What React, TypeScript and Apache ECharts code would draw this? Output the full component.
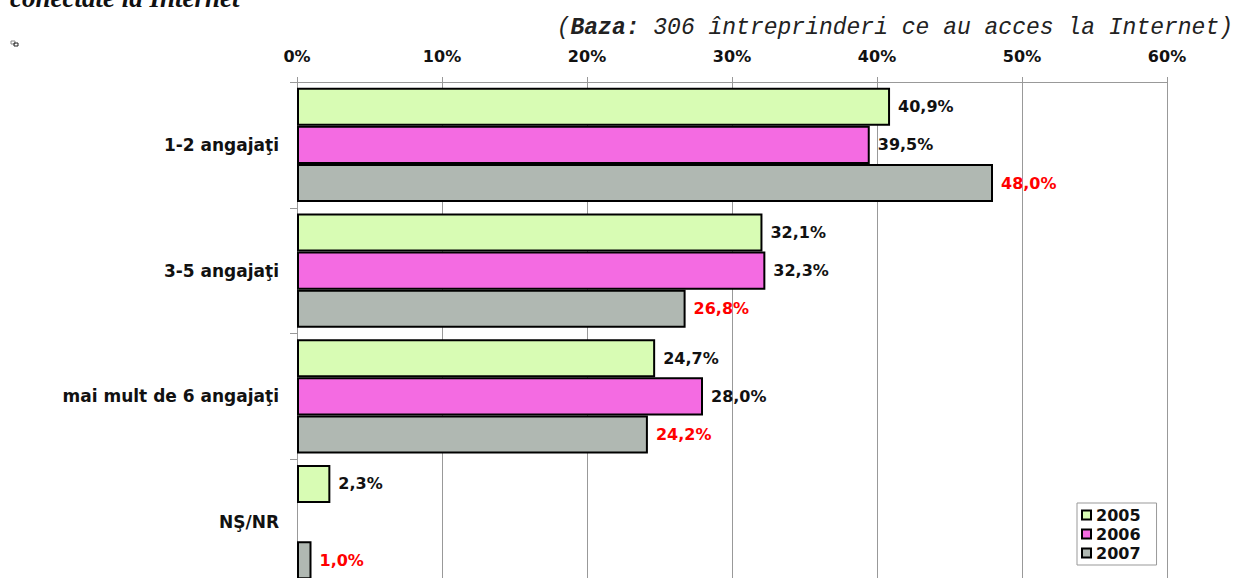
import React, { useEffect, useRef } from "react";
import * as echarts from "echarts";

const categories = ["1-2 angajaţi", "3-5 angajaţi", "mai mult de 6 angajaţi", "NŞ/NR"];
const years = ["2005", "2006", "2007"];
const values2005 = [40.9, 32.1, 24.7, 2.3];
const values2006: (number | null)[] = [39.5, 32.3, 28.0, null];
const values2007 = [48.0, 26.8, 24.2, 1.0];
const xTicks = [0, 10, 20, 30, 40, 50, 60];
const colors = ["#D8FCB4", "#F46BE2", "#B0B8B2"];
const labelColors = ["#111111", "#111111", "#FF0000"];

const fmt = (v: number) => v.toFixed(1).replace(".", ",") + "%";

export default function App() {
  const ref = useRef<HTMLDivElement>(null);
  useEffect(() => {
    if (!ref.current) return;
    const chart = echarts.init(ref.current, null, { renderer: "svg" });
    const seriesData = [values2005, values2006, values2007];
    const labelFont = "DejaVu Sans";
    chart.setOption({
      animation: false,
      backgroundColor: "#ffffff",
      title: {
        text: "({b|Baza:} 306 întreprinderi ce au acces la Internet)",
        right: 1,
        top: 16,
        padding: 0,
        textStyle: {
          fontFamily: "Liberation Mono",
          fontStyle: "italic",
          fontWeight: "normal",
          fontSize: 23,
          color: "#222",
          rich: {
            b: {
              fontFamily: "Liberation Mono",
              fontStyle: "italic",
              fontWeight: "bold",
              fontSize: 23,
              color: "#222",
            },
          },
        },
      },
      graphic: [
        {
          type: "text",
          left: 10,
          top: -16,
          style: {
            text: "conectate la Internet",
            font: "italic bold 27px 'Liberation Serif'",
            fill: "#111",
          },
        },
        { type: "rect", shape: { x: 11, y: 41, width: 4, height: 3 }, style: { fill: "none", stroke: "#888", lineWidth: 1 } },
        { type: "rect", shape: { x: 14, y: 43, width: 4, height: 3 }, style: { fill: "none", stroke: "#222", lineWidth: 1 } },
      ],
      legend: {
        orient: "vertical",
        left: 1077,
        top: 503,
        itemWidth: 9,
        itemHeight: 9,
        itemGap: 3,
        padding: [4, 16, 4, 4],
        borderColor: "#999",
        borderWidth: 1,
        backgroundColor: "#fff",
        data: years.map((y) => ({ name: y, icon: "rect" })),
        textStyle: { fontFamily: labelFont, fontWeight: "bold", fontSize: 16, color: "#111", padding: [0, 0, 0, 0] },
      },
      grid: { left: 297, right: 67, top: 82, height: 503, containLabel: false, outerBoundsMode: "none" },
      xAxis: {
        type: "value",
        position: "top",
        min: xTicks[0],
        max: xTicks[xTicks.length - 1],
        interval: 10,
        axisLine: { show: true, lineStyle: { color: "#999", width: 1 } },
        axisTick: { show: true, length: 5, lineStyle: { color: "#999" } },
        splitLine: { show: true, lineStyle: { color: "#999", width: 1 } },
        axisLabel: {
          formatter: "{value}%",
          margin: 18,
          fontFamily: labelFont,
          fontWeight: "bold",
          fontSize: 16,
          color: "#111",
        },
      },
      yAxis: {
        type: "category",
        inverse: true,
        data: categories,
        axisLine: { show: true, lineStyle: { color: "#999", width: 1 } },
        axisTick: { show: true, length: 7, lineStyle: { color: "#999" } },
        axisLabel: {
          margin: 18,
          fontFamily: labelFont,
          fontWeight: "bold",
          fontSize: 17,
          color: "#111",
        },
      },
      series: years.map((y, i) => ({
        name: y,
        type: "bar",
        data: seriesData[i],
        barGap: "0%",
        barCategoryGap: "9%",
        itemStyle: { color: colors[i], borderColor: "#000", borderWidth: 2 },
        label: {
          show: true,
          position: "right",
          distance: 8,
          formatter: (p: any) => (p.value == null ? "" : fmt(p.value)),
          fontFamily: labelFont,
          fontWeight: "bold",
          fontSize: 16,
          color: labelColors[i],
        },
      })),
    });
    return () => chart.dispose();
  }, []);
  return <div ref={ref} style={{ position: "fixed", left: 0, top: 0, width: 1234, height: 578 }} />;
}
